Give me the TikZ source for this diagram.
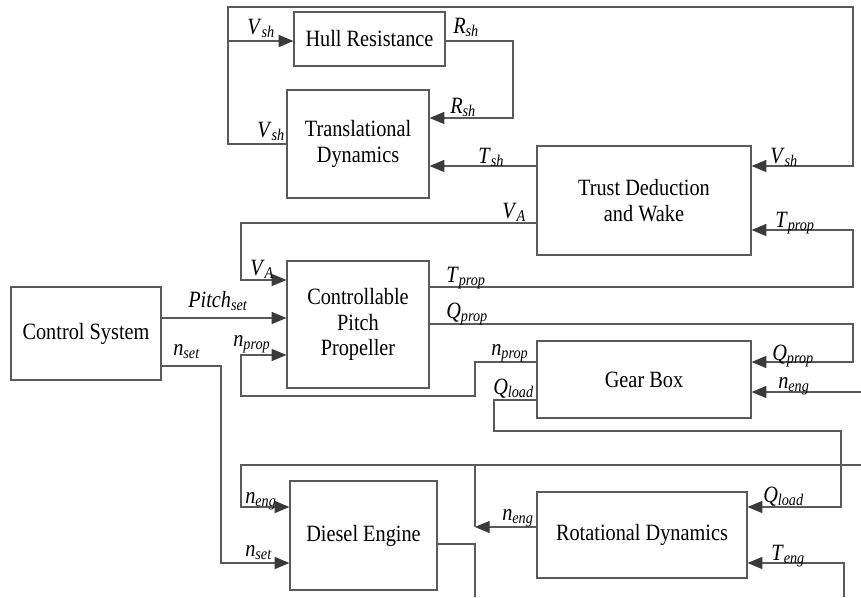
\documentclass[tikz,border=0pt]{standalone}
\usepackage{fontspec}
\setmainfont{Liberation Serif}[FakeStretch=0.87]
\usetikzlibrary{arrows.meta,positioning}

\definecolor{linegray}{HTML}{5A5A5A}
\definecolor{tipgray}{HTML}{3A3A3A}
\newcommand{\sigl}[2]{\textit{#1}\textsubscript{\textit{#2}}}

\begin{document}
\begin{tikzpicture}[
  x=0.75pt,y=-0.75pt,
  font=\fontsize{17.5}{19}\selectfont,
  box/.style={rectangle,draw=linegray,line width=0.9pt,align=center,inner sep=0pt},
  wire/.style={draw=linegray,line width=0.9pt},
  arr/.style={wire,-{Triangle[length=11pt,width=9pt,color=tipgray]}},
  lab/.style={inner sep=0pt,anchor=base west}
]
\useasboundingbox (0,0) rectangle (861,597);
% blocks
\node[box,minimum width=151*0.75pt,minimum height=54*0.75pt]  (hull)   at (369.5,39)   {Hull Resistance};
\node[box,minimum width=142*0.75pt,minimum height=108*0.75pt] (trans)  at (358,144)    {Translational\\Dynamics};
\node[box,minimum width=214*0.75pt,minimum height=109*0.75pt] (trust)  at (644,200.5)  {Trust Deduction\\and Wake};
\node[box,minimum width=150*0.75pt,minimum height=93*0.75pt]  (ctrl)   at (86,333.5)   {Control System};
\node[box,minimum width=142*0.75pt,minimum height=127*0.75pt] (cpp)    at (358,324.5)  {Controllable\\Pitch\\Propeller};
\node[box,minimum width=214*0.75pt,minimum height=77*0.75pt]  (gear)   at (644,379.5)  {Gear Box};
\node[box,minimum width=147*0.75pt,minimum height=109*0.75pt] (diesel) at (363.5,535.5) {Diesel Engine};
\node[box,minimum width=210*0.75pt,minimum height=86*0.75pt]  (rot)    at (642,535)    {Rotational Dynamics};
% free ends at the border
\coordinate (nengin)  at (861,392);
\coordinate (nengbus) at (861,465);
\coordinate (nengjn)  at (475,527);
\coordinate (deout)   at (475,597);
\coordinate (tengin)  at (844,597);
% signals
\draw[arr] (trans.west |- 0,144) -| (228,7) -| (853,166) -- (trust.east |- 0,166);
\draw[arr] (228,41) -- (hull.west |- 0,41);
\draw[arr] (hull.east |- 0,41) -| (513,118) -- (trans.east |- 0,118);
\draw[arr] (trust.west |- 0,166) -- (trans.east |- 0,166);
\draw[arr] (trust.west |- 0,223) -| (241,280) -- (cpp.west |- 0,280);
\draw[arr] (cpp.east |- 0,287) -| (853,230) -- (trust.east |- 0,230);
\draw[arr] (ctrl.east |- 0,318) -- (cpp.west |- 0,318);
\draw[arr] (cpp.east |- 0,324) -| (853,362) -- (gear.east |- 0,362);
\draw[arr] (gear.west |- 0,362) -| (475,396) -| (241,355) -- (cpp.west |- 0,355);
\draw[arr] (gear.west |- 0,400) -| (494,431) -| (841,507) -- (rot.east |- 0,507);
\draw[arr] (nengin) -- (gear.east |- nengin);
\draw[arr] (ctrl.east |- 0,366) -| (221,563) -- (diesel.west |- 0,563);
\draw[arr] (rot.west |- nengjn) -- (nengjn);
\draw[wire] (nengjn) -- (475,465);
\draw[arr] (nengbus) -| (241,507) -- (diesel.west |- 0,507);
\draw[wire] (diesel.east |- 0,544) -| (deout);
\draw[arr] (tengin) |- (rot.east |- 0,563);
% labels
\node[lab] (l1)  at (247,34)  {\sigl{V}{sh}};
\node[lab] (l2)  at (453,33)  {\sigl{R}{sh}};
\node[lab] (l3)  at (450,113) {\sigl{R}{sh}};
\node[lab] (l4)  at (257,137) {\sigl{V}{sh}};
\node[lab] (l5)  at (478,163) {\sigl{T}{sh}};
\node[lab] (l6)  at (770,163) {\sigl{V}{sh}};
\node[lab] (l7)  at (775,227) {\sigl{T}{prop}};
\node[lab] (l8)  at (502,218) {\sigl{V}{A}};
\node[lab] (l9)  at (250,275) {\sigl{V}{A}};
\node[lab] (l10) at (446,282) {\sigl{T}{prop}};
\node[lab] (l11) at (446,318) {\sigl{Q}{prop}};
\node[lab] (l12) at (188,307) {\sigl{Pitch}{set}};
\node[lab] (l13) at (173,355) {\sigl{n}{set}};
\node[lab] (l14) at (233,346) {\sigl{n}{prop}};
\node[lab] (l15) at (491,355) {\sigl{n}{prop}};
\node[lab] (l16) at (493,394) {\sigl{Q}{load}};
\node[lab] (l17) at (772,360) {\sigl{Q}{prop}};
\node[lab] (l18) at (778,388) {\sigl{n}{eng}};
\node[lab] (l19) at (763,502) {\sigl{Q}{load}};
\node[lab] (l20) at (771,560) {\sigl{T}{eng}};
\node[lab] (l21) at (502,520) {\sigl{n}{eng}};
\node[lab] (l22) at (245,503) {\sigl{n}{eng}};
\node[lab] (l23) at (245,556) {\sigl{n}{set}};
\end{tikzpicture}
\end{document}
